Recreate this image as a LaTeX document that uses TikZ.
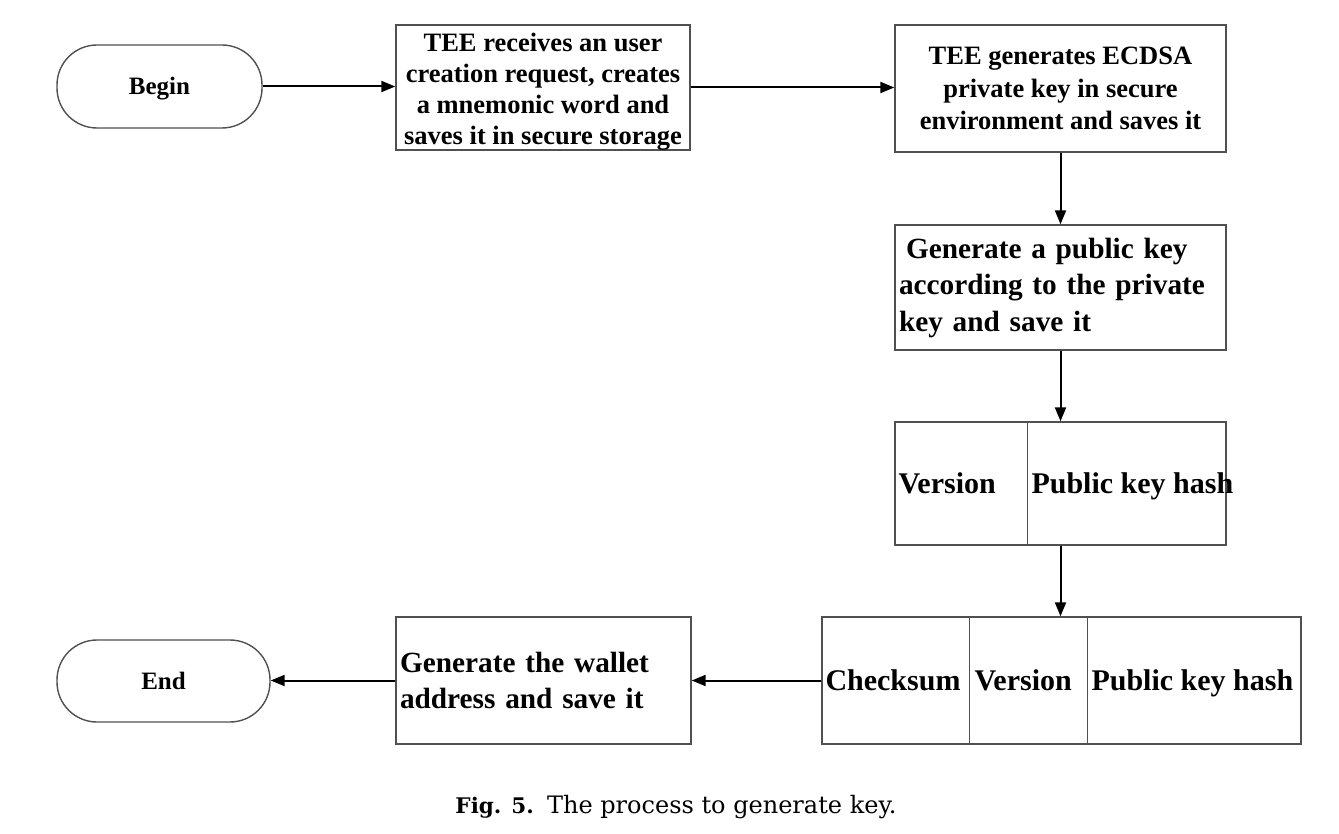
\documentclass[tikz,border=0pt]{standalone}
\usepackage{fontspec}
\setmainfont{Liberation Serif}
\newfontfamily\capfont{DejaVu Serif}
\usetikzlibrary{arrows.meta}
\definecolor{boxgray}{HTML}{505050}
\begin{document}
\begin{tikzpicture}[x=1pt,y=-1pt,
  outline/.style={draw=boxgray, line width=1.4pt},
  box/.style={outline, rectangle, inner sep=0pt},
  term/.style={outline, rounded corners=40pt, inner sep=0pt, text height=17pt, text depth=0pt,
               font=\fontsize{25}{30}\selectfont\bfseries},
  arr/.style={line width=2pt, -{Triangle[length=14pt,width=11pt]}},
  txt/.style={font=\fontsize{30}{36}\selectfont\bfseries, inner sep=0pt},
  sep/.style={draw=boxgray, line width=1.4pt}
]
\useasboundingbox (0,0) rectangle (1339,834);

\node[term, minimum width=205pt, minimum height=83pt] (begin) at (159.5,86.5) {Begin};

\node[box, minimum width=294pt, minimum height=125pt] (b1) at (543,87.5) {};
\node[align=center, inner sep=0pt, font=\fontsize{26.5}{31}\selectfont\bfseries] (t1) at ([yshift=-4pt]b1.center)
  {TEE receives an user\\creation request, creates\\a mnemonic word and\\saves it in secure storage};

\node[box, minimum width=331pt, minimum height=127pt, align=center,
      font=\fontsize{26.5}{32.5}\selectfont\bfseries] (b2) at (1060.5,88.5)
  {TEE generates ECDSA\\private key in secure\\environment and saves it};
\node[box, minimum height=125pt, text width=323pt, inner xsep=4pt, align=left,
      font=\fontsize{29.3}{36.5}\selectfont\bfseries] (b3) at (1060.5,287.5)
  {\hspace*{7pt}Generate a public key\\according to the private\\key and save it};

\node[box, minimum width=331pt, minimum height=123pt] (b4) at (1060.5,483.5) {};
\draw[sep] ([xshift=133pt]b4.north west) -- ([xshift=133pt]b4.south west);
\node[txt, anchor=base west] (v4) at ([xshift=4pt,yshift=-10pt]b4.west) {Version};
\node[txt, anchor=base west] (p4) at ([xshift=137pt,yshift=-10pt]b4.west) {Public key hash};

\node[box, minimum width=479pt, minimum height=127pt] (b5) at (1061.5,680.5) {};
\draw[sep] ([xshift=148pt]b5.north west) -- ([xshift=148pt]b5.south west);
\draw[sep] ([xshift=266pt]b5.north west) -- ([xshift=266pt]b5.south west);
\node[txt, anchor=base west] (c5) at ([xshift=4pt,yshift=-10pt]b5.west) {Checksum};
\node[txt, anchor=base west] (v5) at ([xshift=153pt,yshift=-10pt]b5.west) {Version};
\node[txt, anchor=base west] (p5) at ([xshift=270pt,yshift=-10pt]b5.west) {Public key hash};

\node[box, minimum height=127pt, text width=287pt, inner xsep=4pt, align=left,
      font=\fontsize{29.3}{36}\selectfont\bfseries] (b6) at (543.5,680.5)
  {Generate the wallet\\address and save it\\[12pt]};
\node[term, minimum width=213pt, minimum height=82pt] (end) at (163.5,681) {End};

\draw[arr] (begin.east) -- (begin.east -| b1.west);
\draw[arr] (b1.east) -- (b1.east -| b2.west);
\draw[arr] (b2.south) -- (b3.north);
\draw[arr] (b3.south) -- (b4.north);
\draw[arr] (b4.south) -- (b4.south |- b5.north);
\draw[arr] (b5.west) -- (b5.west -| b6.east);
\draw[arr] (b6.west) -- (b6.west -| end.east);

\node[font=\capfont\fontsize{24}{28}\selectfont, inner sep=0pt, anchor=base] (cap) at (676,813)
  {{\fontsize{21.5}{28}\selectfont\bfseries Fig. 5.}\hspace{0.55em}The process to generate key.};
\end{tikzpicture}
\end{document}
